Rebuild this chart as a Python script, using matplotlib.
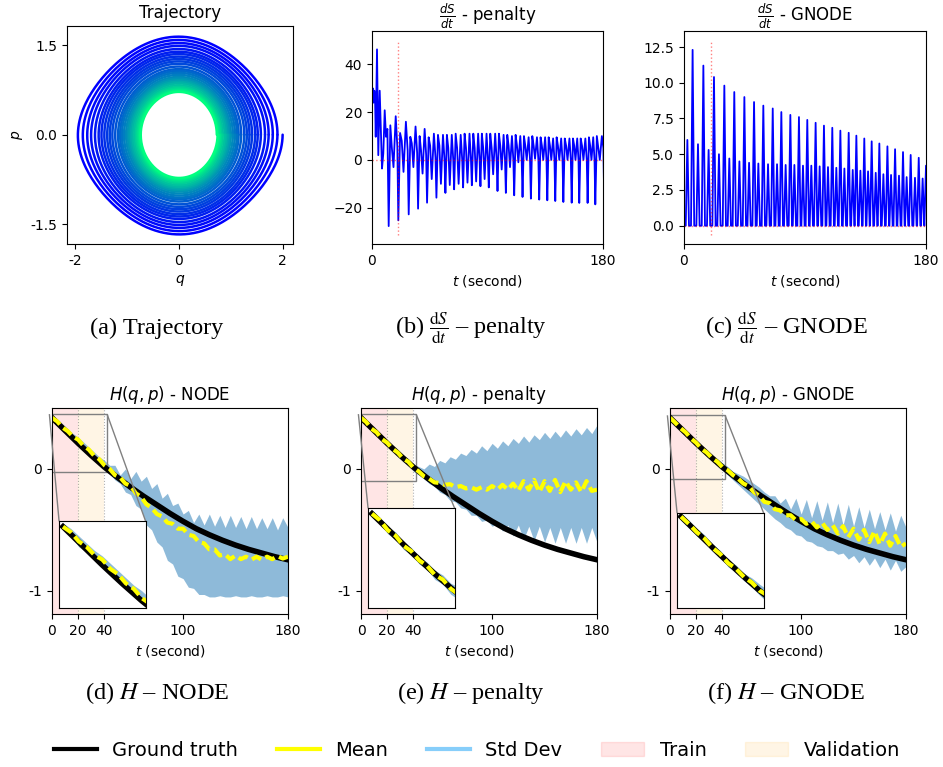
"""
Damped pendulum: trajectory, entropy production and energy of the
NODE / penalty / GNODE models. Saves out.png.
"""

import numpy as np
import matplotlib.pyplot as plt
from matplotlib.lines import Line2D
from matplotlib.patches import Patch
from mpl_toolkits.axes_grid1.inset_locator import mark_inset

# ---------------- values ----------------
# (a) q amplitude of the trajectory at each crossing of p = 0 (q > 0)
ring_q = [2.00, 1.90, 1.81, 1.73, 1.66, 1.58, 1.52, 1.47, 1.41, 1.36,
          1.31, 1.26, 1.20, 1.15, 1.12, 1.08, 1.04, 1.00, 0.97, 0.94,
          0.91, 0.88, 0.845, 0.815, 0.79, 0.765, 0.745, 0.73]

# (b) dS/dt penalty: first seconds, then one entry per oscillation
pen_t0 = [0, 0.6, 1.2, 1.8, 2.4, 2.9, 3.9, 4.9, 6.0, 6.9, 7.8, 8.8, 9.9, 10.9, 12.0]
pen_v0 = [25, 30, 24, 29, 25, 9.7, 46.3, 2.0, 29, 12, -3.6, 2.7, 20.8, 9.7, 13]
pen_trough_t = [13.0, 20.5, 28.6, 35.9, 42.9, 50.2, 57.2, 64.0, 71.0, 77.8,
                84.5, 91.0, 97.8, 104.3, 110.8, 117.3, 123.8, 130.3, 136.6,
                142.8, 149.1, 155.6, 161.5, 168.0, 174.0, 181.0]
pen_lo = [-27.7, -25.3, -22.8, -20.4, -17.9, -15.8, -13.8, -12.3, -11.5, -10.6,
          -11.0, -11.5, -13.0, -13.8, -14.8, -15.5, -16.2, -16.6, -16.9,
          -17.2, -17.6, -17.9, -18.0, -18.0, -18.6, -18.0]
pen_hi1 = [14.5, 11.3, 9.7, 10.0, 9.5, 10.5, 10.5, 11.0, 11.0, 11.0, 11.0,
           11.0, 11.0, 10.5, 10.5, 10.0, 10.0, 9.5, 9.5, 9.5, 9.0, 9.0, 9.0,
           9.5, 10.0]
pen_a1 = [5.0, 8.0, 7.0, 4.0, 6.0, 6.0, 5.0, 5.0, 5.0, 5.0, 5.0, 5.0, 6.0,
          6.0, 6.0, 6.0, 6.0, 6.0, 6.0, 6.0, 6.0, 6.0, 6.0, 6.0, 5.0]
pen_mid = [-3.0, -5.0, -3.0, -5.7, -8.0, -10.0, -10.5, -10.0, -9.5, -9.0,
           -8.0, -6.0, -4.0, -3.0, -1.0, 0.0, 0.5, 0.0, 0.0, 0.0, 0.0, 0.0,
           0.0, 0.0, 0.0]
pen_hi2 = [18.3, 16.0, 14.0, 13.0, 11.0, 10.5, 10.5, 10.5, 11.0, 11.0, 11.0,
           11.0, 10.5, 10.0, 10.0, 9.5, 9.5, 9.5, 9.0, 9.0, 9.0, 9.0, 9.0,
           9.5, 10.0]
pen_a2 = [5.5, 4.0, 3.0, 2.0, 1.0, 0.0, 0.0, 0.0, 0.0, 0.0, 0.0, 0.0, 0.0,
          0.0, 0.0, 0.0, 0.0, 0.0, 0.0, 0.0, 0.0, 0.0, 0.0, 0.0, 5.0]

# (c) dS/dt GNODE: spike times and heights
gn_t = [2.5, 6.4, 10.4, 14.4, 18.3, 22.3, 26.0, 30.0, 33.7, 37.4, 41.2, 44.9,
        48.4, 52.1, 55.3, 59.0, 62.5, 66.0, 69.2, 72.4, 75.6, 79.1, 82.1,
        85.5, 88.5, 91.7, 94.7, 97.9, 100.9, 104.1, 107.1, 110.3, 113.3,
        116.3, 119.3, 122.5, 125.5, 128.2, 131.2, 134.1, 136.9, 139.6, 142.6,
        145.3, 148.3, 151.3, 154.0, 157.0, 159.9, 162.9, 165.6, 168.6, 171.8,
        174.6, 177.5, 180.0]
gn_h = [6.0, 12.3, 5.7, 11.2, 5.3, 10.4, 5.0, 9.8, 4.7, 9.35, 4.5, 9.0, 4.4,
        8.65, 4.35, 8.4, 4.3, 8.2, 4.3, 7.95, 4.25, 7.75, 4.25, 7.6, 4.2, 7.4,
        4.2, 7.2, 4.15, 7.0, 4.1, 6.85, 4.05, 6.65, 4.0, 6.5, 3.9, 6.3, 3.85,
        6.1, 3.8, 5.9, 3.7, 5.75, 3.6, 5.55, 3.55, 5.35, 3.5, 5.15, 3.4, 4.95,
        3.35, 4.75, 3.3, 4.2]

# (d)-(f) energy H(q, p)
t_true = np.arange(0, 181, 10)
h_true = [0.42, 0.315, 0.21, 0.11, 0.015, -0.07, -0.15, -0.225, -0.295,
          -0.365, -0.43, -0.49, -0.54, -0.585, -0.625, -0.66, -0.69, -0.72, -0.745]

t_pred = np.arange(0, 181, 4)
node_mean = [0.42, 0.39, 0.34, 0.31, 0.265, 0.24, 0.19, 0.16, 0.11, 0.08, 0.03,
             0.0, -0.05, -0.07, -0.12, -0.14, -0.20, -0.23, -0.29, -0.32, -0.37,
             -0.39, -0.44, -0.45, -0.49, -0.49, -0.54, -0.55, -0.60, -0.61, -0.66,
             -0.66, -0.71, -0.70, -0.74, -0.71, -0.74, -0.72, -0.745, -0.72,
             -0.745, -0.72, -0.74, -0.715, -0.735, -0.72]
node_hi = [0.44, 0.41, 0.37, 0.33, 0.29, 0.26, 0.22, 0.18, 0.14, 0.10, 0.07,
           0.03, 0.03, -0.05, 0.0, -0.08, -0.02, -0.10, -0.06, -0.16, -0.12,
           -0.24, -0.20, -0.30, -0.28, -0.37, -0.34, -0.44, -0.37, -0.46, -0.37,
           -0.47, -0.38, -0.48, -0.38, -0.48, -0.39, -0.49, -0.39, -0.49, -0.40,
           -0.49, -0.40, -0.50, -0.40, -0.48]
node_lo = [0.40, 0.37, 0.31, 0.28, 0.24, 0.21, 0.16, 0.13, 0.08, 0.05, 0.0,
           -0.04, -0.09, -0.12, -0.19, -0.21, -0.30, -0.33, -0.46, -0.50, -0.60,
           -0.64, -0.75, -0.78, -0.88, -0.90, -0.97, -0.98, -1.03, -1.03, -1.05,
           -1.05, -1.04, -1.05, -1.05, -1.04, -1.05, -1.05, -1.04, -1.05, -1.05,
           -1.04, -1.05, -1.05, -1.04, -1.05]

pen_mean = [0.42, 0.385, 0.33, 0.30, 0.245, 0.215, 0.165, 0.135, 0.085, 0.06,
            0.01, -0.02, -0.06, -0.08, -0.11, -0.115, -0.13, -0.125, -0.15,
            -0.14, -0.16, -0.15, -0.17, -0.15, -0.17, -0.14, -0.17, -0.13,
            -0.17, -0.12, -0.18, -0.10, -0.17, -0.09, -0.19, -0.10, -0.18,
            -0.09, -0.19, -0.10, -0.17, -0.11, -0.19, -0.10, -0.18, -0.17]
pen_hi = [0.44, 0.40, 0.35, 0.32, 0.265, 0.235, 0.185, 0.155, 0.11, 0.085,
          0.04, 0.02, 0.0, 0.04, 0.02, 0.07, 0.05, 0.10, 0.08, 0.13, 0.11, 0.16,
          0.13, 0.19, 0.15, 0.21, 0.17, 0.23, 0.19, 0.25, 0.21, 0.27, 0.22,
          0.28, 0.24, 0.30, 0.25, 0.31, 0.26, 0.32, 0.27, 0.33, 0.28, 0.34,
          0.29, 0.36]
pen_h_lo = [0.40, 0.37, 0.31, 0.28, 0.225, 0.195, 0.145, 0.115, 0.06, 0.035,
            -0.02, -0.05, -0.08, -0.12, -0.14, -0.19, -0.21, -0.26, -0.27,
            -0.32, -0.33, -0.38, -0.38, -0.43, -0.42, -0.47, -0.45, -0.51,
            -0.46, -0.55, -0.46, -0.58, -0.47, -0.59, -0.47, -0.60, -0.48,
            -0.61, -0.48, -0.61, -0.48, -0.61, -0.48, -0.61, -0.48, -0.60]

gn_mean = [0.42, 0.38, 0.335, 0.30, 0.25, 0.215, 0.165, 0.135, 0.09, 0.06,
           0.015, -0.01, -0.05, -0.08, -0.12, -0.14, -0.19, -0.22, -0.27, -0.28,
           -0.33, -0.34, -0.38, -0.38, -0.42, -0.41, -0.45, -0.43, -0.48, -0.44,
           -0.50, -0.46, -0.53, -0.47, -0.56, -0.49, -0.58, -0.50, -0.60, -0.51,
           -0.62, -0.53, -0.63, -0.55, -0.64, -0.61]
gn_hi = [0.44, 0.40, 0.355, 0.32, 0.27, 0.235, 0.185, 0.155, 0.11, 0.085,
         0.05, 0.02, -0.02, -0.04, -0.06, -0.09, -0.12, -0.15, -0.19, -0.22,
         -0.22, -0.28, -0.24, -0.33, -0.24, -0.37, -0.25, -0.40, -0.26, -0.42,
         -0.27, -0.44, -0.28, -0.46, -0.29, -0.47, -0.31, -0.48, -0.33, -0.49,
         -0.35, -0.50, -0.36, -0.51, -0.38, -0.48]
gn_lo = [0.40, 0.36, 0.315, 0.28, 0.23, 0.195, 0.145, 0.115, 0.07, 0.035,
         -0.01, -0.05, -0.09, -0.13, -0.17, -0.21, -0.25, -0.29, -0.33, -0.37,
         -0.41, -0.44, -0.48, -0.50, -0.54, -0.55, -0.59, -0.60, -0.63, -0.64,
         -0.67, -0.67, -0.70, -0.69, -0.74, -0.71, -0.77, -0.72, -0.79, -0.73,
         -0.81, -0.74, -0.83, -0.75, -0.84, -0.80]

models = ['NODE', 'penalty', 'GNODE']
means = [node_mean, pen_mean, gn_mean]
his = [node_hi, pen_hi, gn_hi]
los = [node_lo, pen_h_lo, gn_lo]
inset_ylim = [(-0.027, 0.45), (-0.098, 0.45), (-0.082, 0.44)]

# ---------------- figure ----------------
W, H = 943, 767
fig = plt.figure(figsize=(W / 100, H / 100), dpi=100)


def px_axes(l, t, r, b):
    return fig.add_axes([l / W, 1 - b / H, (r - l) / W, (b - t) / H])


# (a) trajectory, one turn per line, coloured by time
ax = px_axes(67, 26, 293, 244)
cmap = plt.get_cmap('winter')
nturn = len(ring_q) - 1
for k in range(nturn):
    psi = np.linspace(0, 2 * np.pi, 300)
    A = ring_q[k] + (ring_q[k + 1] - ring_q[k]) * psi / (2 * np.pi)
    q = A * np.cos(psi)
    p = -np.sign(np.sin(psi)) * np.sqrt(np.clip(2 * (np.cos(q) - np.cos(A)), 0, None))
    ax.plot(q, p, color=cmap((k / (nturn - 1)) ** 1.3), lw=1.8,
            solid_capstyle='round')
ax.set_xlim(-2.16, 2.2)
ax.set_ylim(-1.83, 1.82)
ax.set_xticks([-2, 0, 2])
ax.set_xticklabels(['-2', '0', '2'])
ax.set_yticks([-1.5, 0, 1.5])
ax.set_yticklabels(['-1.5', '0.0', '1.5'])
ax.set_xlabel('$q$')
ax.set_ylabel('$p$')
ax.set_title('Trajectory', fontsize=12)

# (b) dS/dt penalty
tt, vv = list(pen_t0), list(pen_v0)
frac = [0, 0.17, 0.33, 0.5, 0.73, 0.9]
for k in range(len(pen_trough_t) - 1):
    T0, T1 = pen_trough_t[k], pen_trough_t[k + 1]
    vals = [pen_lo[k], pen_hi1[k], pen_a1[k], pen_mid[k], pen_hi2[k], pen_a2[k]]
    for f, v in zip(frac, vals):
        tt.append(T0 + f * (T1 - T0))
        vv.append(v)
tt.append(pen_trough_t[-1])
vv.append(pen_lo[-1])
ax = px_axes(372, 31, 603, 244)
ax.plot(tt, vv, color='blue', lw=1.3)
ax.axhline(0, color='red', ls=':', lw=1, alpha=0.5)
ax.vlines(20, -31.3, 49.9, colors='red', linestyles=':', lw=1, alpha=0.5)
ax.set_xlim(0, 180)
ax.set_ylim(-35.2, 54)
ax.set_xticks([0, 180])
ax.set_xlabel('$t$ (second)')
ax.set_title(r'$\frac{dS}{dt}$ - penalty', fontsize=12)

# (c) dS/dt GNODE
tt, vv = [0], [0]
for t, h in zip(gn_t, gn_h):
    tt += [t - 1.2, t, t + 1.2]
    vv += [0, h, 0]
ax = px_axes(684, 31, 926, 244)
ax.plot(tt, vv, color='blue', lw=1.3)
ax.axhline(0, color='red', ls=':', lw=1, alpha=0.5)
ax.vlines(20, -0.65, 12.95, colors='red', linestyles=':', lw=1, alpha=0.5)
ax.set_xlim(0, 180)
ax.set_ylim(-1.28, 13.62)
ax.set_xticks([0, 180])
ax.set_xlabel('$t$ (second)')
ax.set_title(r'$\frac{dS}{dt}$ - GNODE', fontsize=12)

# (d)-(f) energy
lefts = [52, 361, 670]
for i in range(3):
    ax = px_axes(lefts[i], 408, lefts[i] + 236, 614)
    ax.axvspan(0, 20, color='red', alpha=0.1, lw=0)
    ax.axvspan(20, 40, color='orange', alpha=0.1, lw=0)
    ax.axvline(20, color='grey', ls=':', lw=0.8, alpha=0.6)
    ax.axvline(40, color='grey', ls=':', lw=0.8, alpha=0.6)
    ax.fill_between(t_pred, los[i], his[i], color='tab:blue', alpha=0.5, lw=0)
    ax.plot(t_true, h_true, color='black', lw=4)
    ax.plot(t_pred, means[i], color='yellow', lw=3, dashes=(2.5, 1.2))
    ax.set_xlim(0, 180)
    ax.set_ylim(-1.19, 0.5)
    ax.set_xticks([0, 20, 40, 100, 180])
    ax.set_yticks([-1, 0])
    ax.set_yticklabels(['-1', '0'])
    ax.set_xlabel('$t$ (second)')
    ax.set_title('$H(q,p)$ - ' + models[i], fontsize=12)

    # zoom on the training / validation window
    y0, y1 = inset_ylim[i]
    zoom = 1.5
    axin = ax.inset_axes([0.03, 0.027, zoom * 44 / 180, zoom * (y1 - y0) / 1.69])
    axin.fill_between(t_pred, los[i], his[i], color='tab:blue', alpha=0.5, lw=0)
    axin.plot(t_true, h_true, color='black', lw=4)
    axin.plot(t_pred, means[i], color='yellow', lw=3, dashes=(2.5, 1.2))
    axin.set_xlim(-2, 42)
    axin.set_ylim(y0, y1)
    axin.set_xticks([])
    axin.set_yticks([])
    mark_inset(ax, axin, loc1=2, loc2=1, fc='none', ec='0.5', lw=1)

# captions
cap_kw = dict(ha='center', va='baseline', fontsize=17.5,
              family='Liberation Serif', math_fontfamily='stix')
cx = [157, 471, 786]
fig.text(cx[0] / W, 1 - 334 / H, '(a) Trajectory', **cap_kw)
fig.text(cx[1] / W, 1 - 334 / H,
         r'(b) $\frac{\mathrm{d}S}{\mathrm{d}t}$ – penalty', **cap_kw)
fig.text(cx[2] / W, 1 - 334 / H,
         r'(c) $\frac{\mathrm{d}S}{\mathrm{d}t}$ – GNODE', **cap_kw)
for i, lab in enumerate(['(d)', '(e)', '(f)']):
    fig.text(cx[i] / W, 1 - 699 / H, lab + ' $H$ – ' + models[i], **cap_kw)

# shared legend
handles = [Line2D([], [], color='black', lw=3),
           Line2D([], [], color='yellow', lw=3),
           Line2D([], [], color='lightskyblue', lw=3),
           Patch(color='red', alpha=0.1),
           Patch(color='orange', alpha=0.1)]
labels = ['Ground truth', 'Mean', 'Std Dev', 'Train', 'Validation']
fig.legend(handles, labels, loc='center', bbox_to_anchor=(477 / W, 1 - 750 / H),
           ncol=5, frameon=False, fontsize=14, handlelength=2.2)

fig.savefig('out.png', dpi=100)
